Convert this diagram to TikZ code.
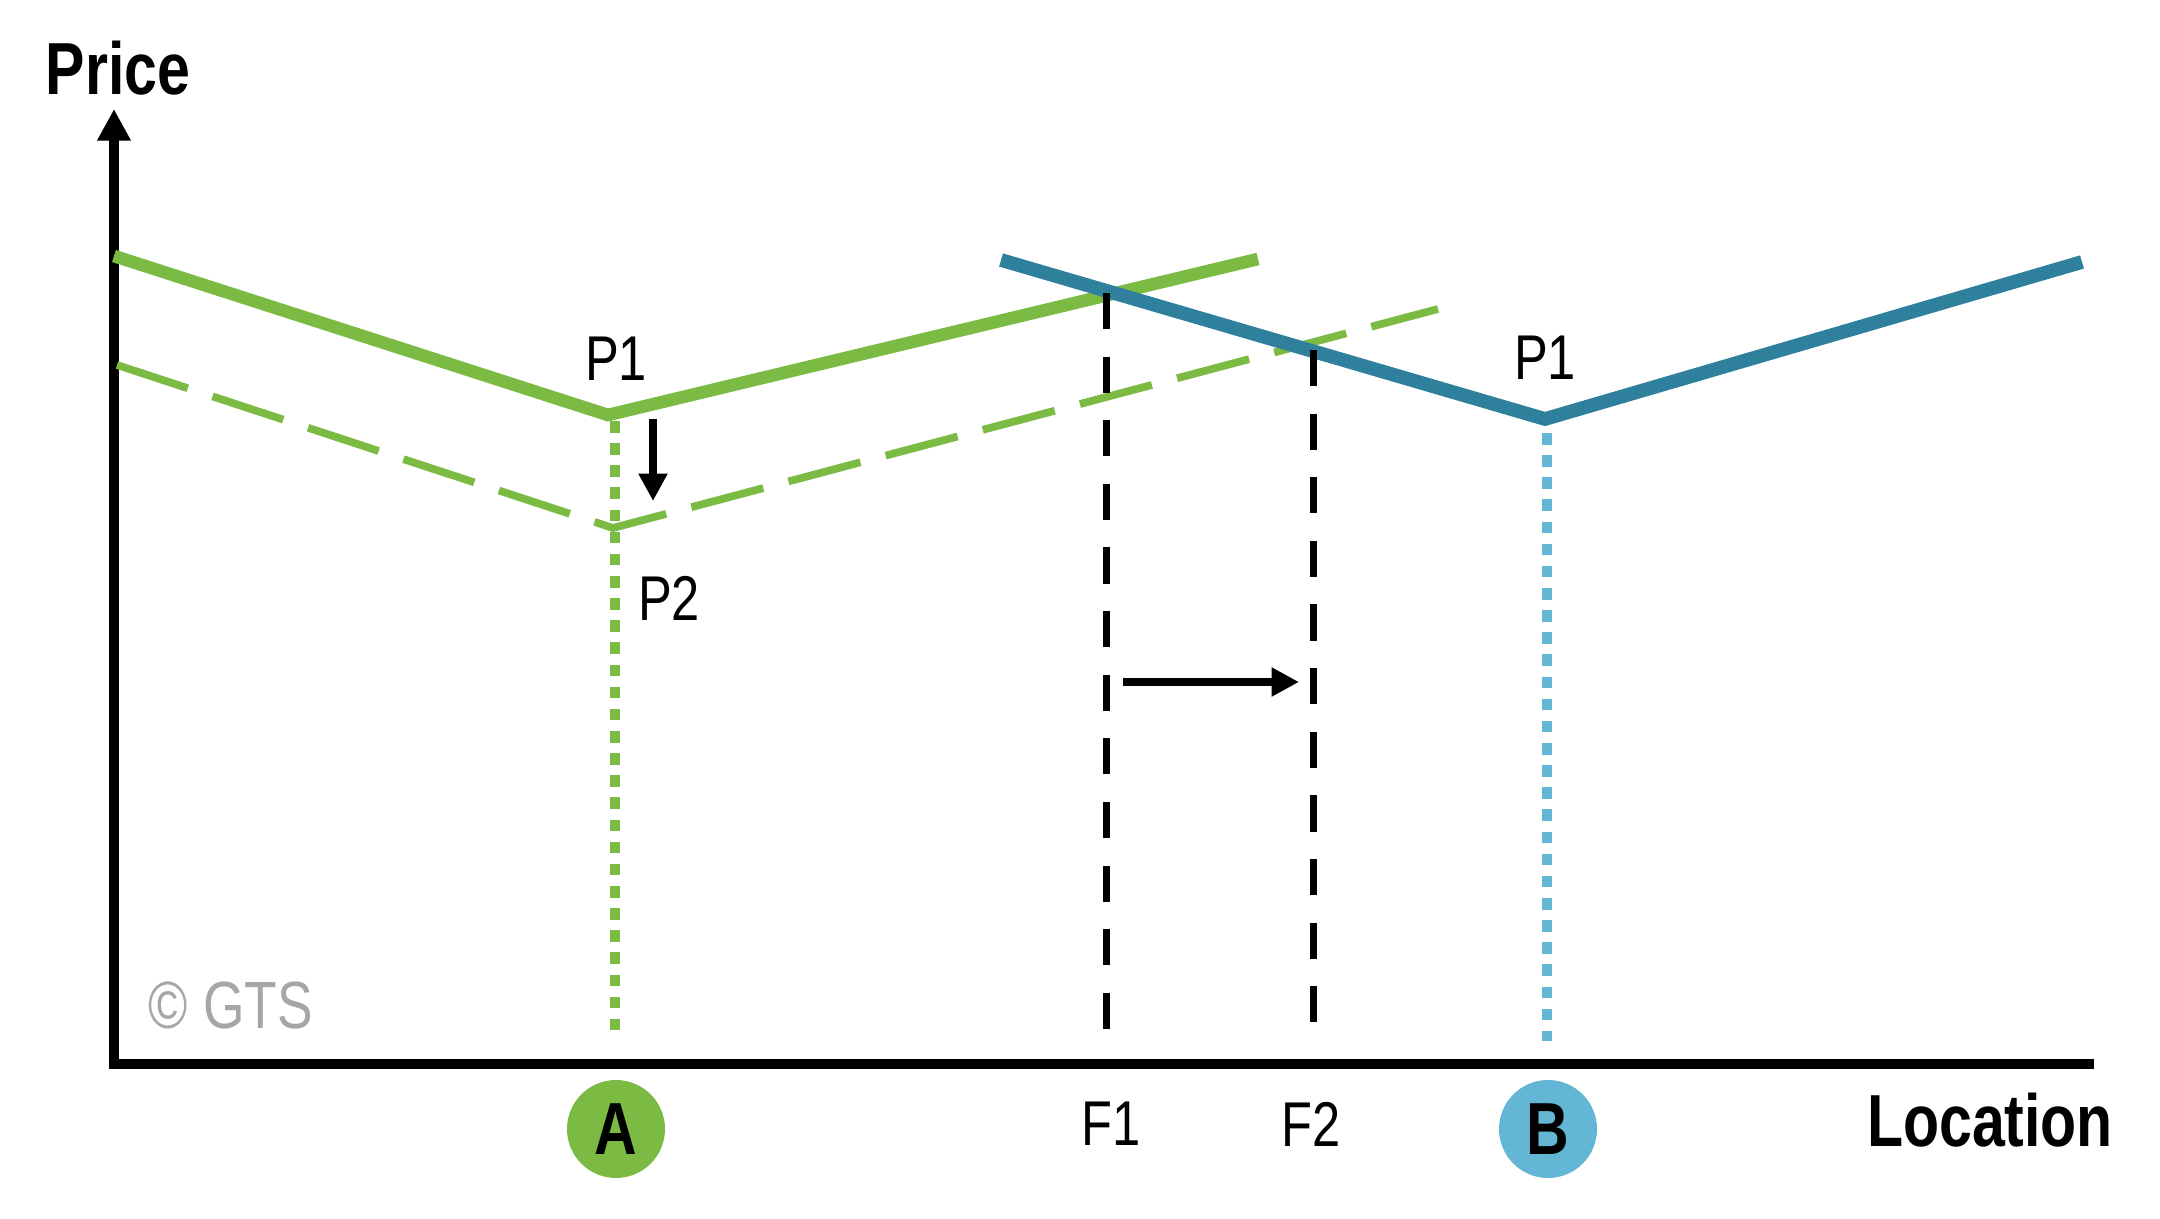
\documentclass[tikz,border=0pt]{standalone}
\usepackage{fontspec}
\setmainfont{Liberation Sans}[FakeStretch=0.8]
\usetikzlibrary{arrows.meta}
\definecolor{gtsgreen}{HTML}{7BBB44}
\definecolor{gtsteal}{HTML}{2E809C}
\definecolor{gtsblue}{HTML}{63B6D4}
\definecolor{gtsgray}{HTML}{A6A6A6}

\begin{document}
\begin{tikzpicture}[
		axis/.style={line width=2.9pt,-{Triangle[length=9pt,width=9pt]}},
		price/.style={line width=3.6pt},
		pricedash/.style={line width=2.2pt,dash pattern=on 21.2pt off 7.4pt},
		firm/.style={line width=2pt,dash pattern=on 10.3pt off 7.8pt},
		drop/.style={line width=2.8pt,dash pattern=on 3.3pt off 3pt},
		movearrow/.style={line width=2.3pt,-{Triangle[length=7.8pt,width=7.8pt]}},
		lbl/.style={inner sep=0pt,font=\fontsize{18}{20}\selectfont},
		bold/.style={inner sep=0pt,font=\fontsize{21}{24}\selectfont\bfseries},
		town/.style={circle,minimum size=0.98cm,inner sep=0pt,font=\fontsize{21}{24}\selectfont\bfseries}]
		\useasboundingbox (0,0) rectangle (21.6,12.18);
		% AXES
		\coordinate (O) at (1.14,1.54);
		\coordinate (ytop) at (1.14,11.09);
		\coordinate (xend) at (20.94,1.54);
		\draw [axis,line join=miter] (xend) -- (O) -- (ytop);
		\node [bold] (price) at (1.18,11.50) {Price};
		\node [bold] (location) at (19.90,0.98) {Location};
		% PRICE LINES OF A
		\coordinate (a1) at (1.14,9.62);
		\coordinate (av) at (6.08,8.03);
		\coordinate (a2) at (12.58,9.59);
		\draw [price,gtsgreen] (a1) -- (av) -- (a2);
		\coordinate (b1) at (1.17,8.53);
		\coordinate (bv) at (6.13,6.90);
		\coordinate (b2) at (14.38,9.09);
		\draw [pricedash,gtsgreen] (b1) -- (bv) -- (b2);
		% PRICE LINE OF B
		\coordinate (c1) at (10.01,9.58);
		\coordinate (cv) at (15.45,7.99);
		\coordinate (c2) at (20.82,9.56);
		\draw [price,line width=3.9pt,gtsteal] (c1) -- (cv) -- (c2);
		% DROP LINES
		\coordinate (atop) at (6.15,7.97);
		\coordinate (abot) at (6.15,1.79);
		\draw [drop,gtsgreen] (atop) -- (abot);
		\coordinate (btop) at (15.47,7.85);
		\coordinate (bbot) at (15.47,1.77);
		\draw [drop,gtsblue] (btop) -- (bbot);
		% FRONTIERS
		\coordinate (f1top) at (11.06,9.25);
		\coordinate (f1bot) at (11.06,1.67);
		\draw [firm] (f1top) -- (f1bot);
		\coordinate (f2top) at (13.13,8.68);
		\coordinate (f2bot) at (13.13,1.77);
		\draw [firm] (f2top) -- (f2bot);
		% SHIFTS
		\coordinate (d1) at (6.53,7.99);
		\coordinate (d2) at (6.53,7.17);
		\draw [movearrow] (d1) -- (d2);
		\coordinate (s1) at (11.23,5.36);
		\coordinate (s2) at (12.99,5.36);
		\draw [movearrow] (s1) -- (s2);
		% LABELS
		\node [lbl] (p1a) at (6.16,8.59) {P1};
		\node [lbl] (p2a) at (6.69,6.20) {P2};
		\node [lbl] (p1b) at (15.45,8.60) {P1};
		\node [lbl] (f1) at (11.11,0.94) {F1};
		\node [lbl] (f2) at (13.11,0.94) {F2};
		\node [town,fill=gtsgreen] (A) at (6.16,0.89) {A};
		\node [town,fill=gtsblue] (B) at (15.48,0.89) {B};
		\node [lbl,gtsgray,font=\fontsize{19}{21}\selectfont] (copy) at (2.31,2.12) {© GTS};
\end{tikzpicture}
\end{document}
